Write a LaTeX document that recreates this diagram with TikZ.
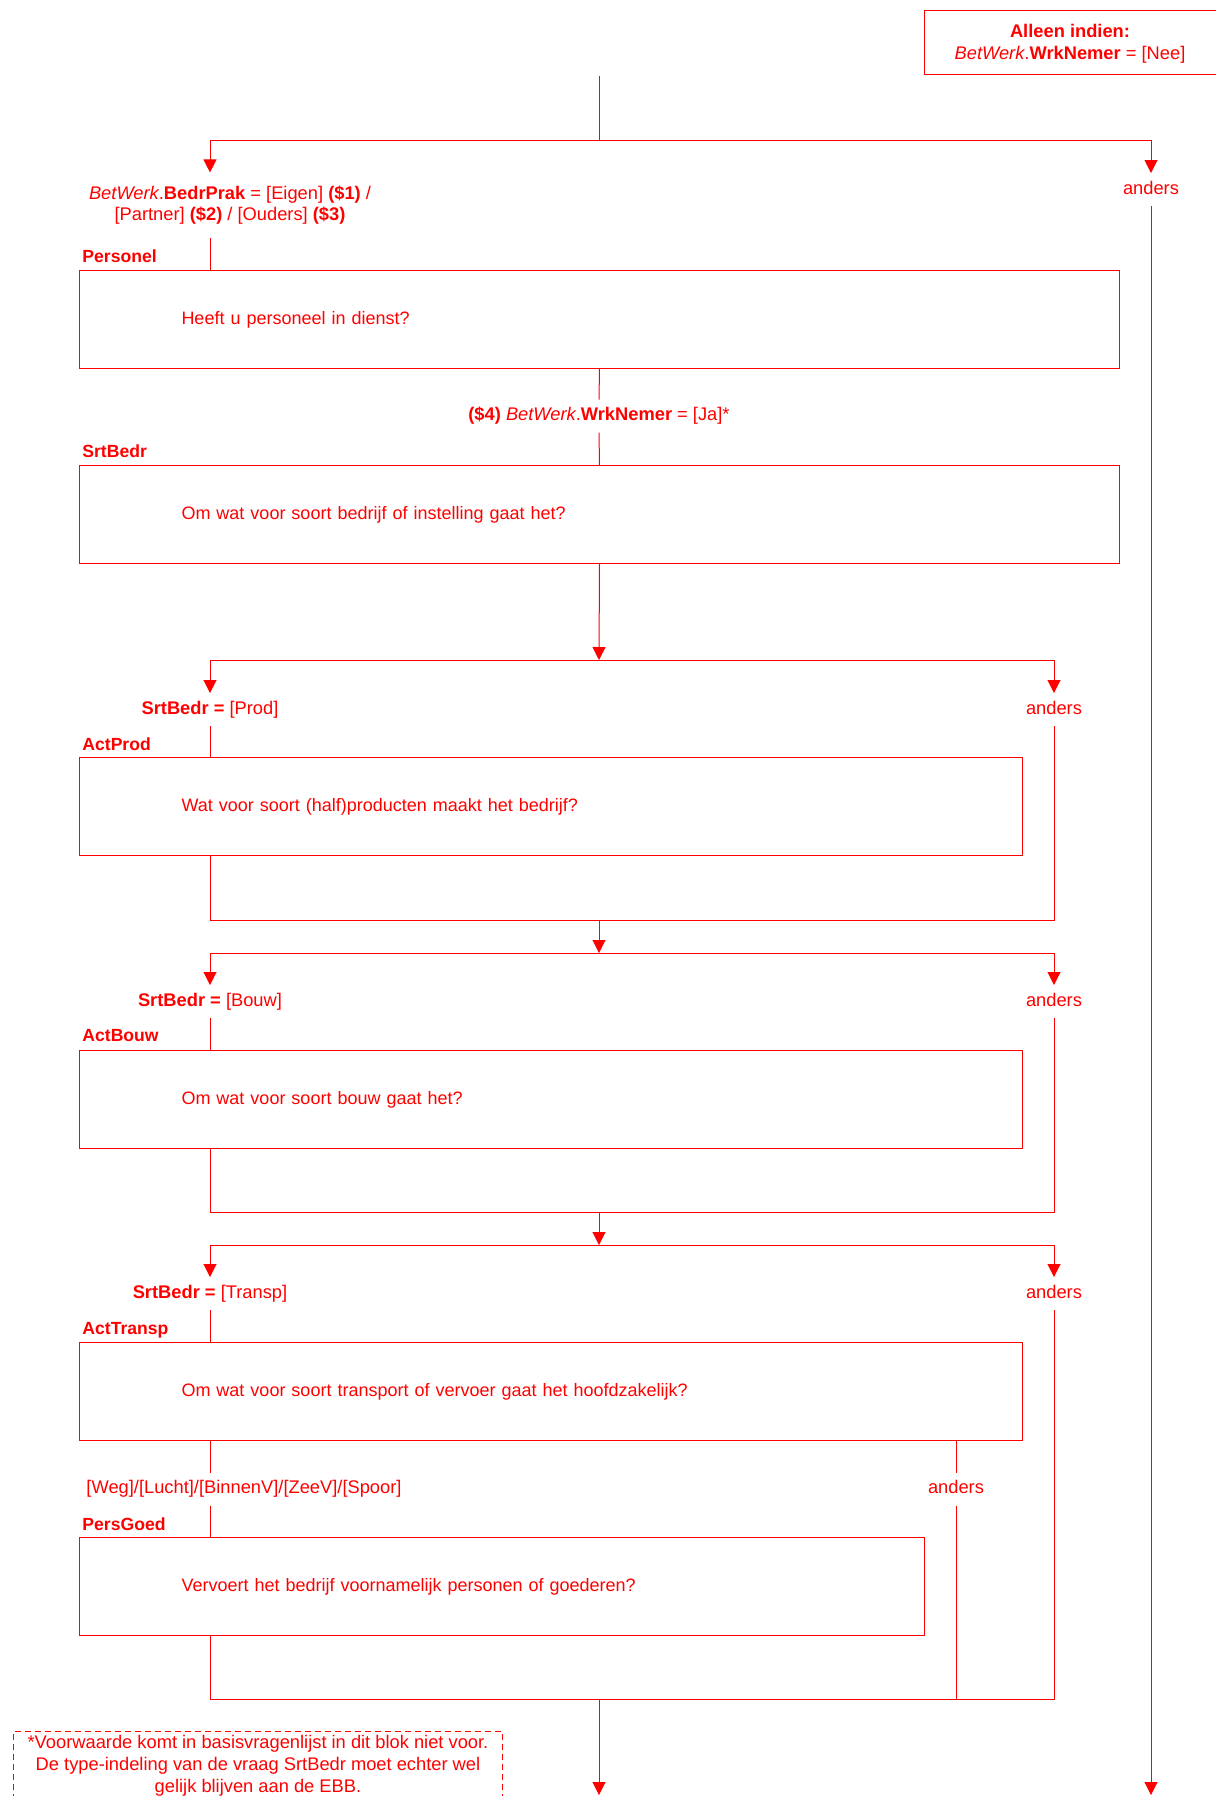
\documentclass[tikz,border=0pt]{standalone}
\usepackage{fontspec}
\setmainfont{Liberation Sans}
\usetikzlibrary{arrows.meta,calc}
\definecolor{rood}{RGB}{255,0,0}
\tikzset{
	lijn/.style={draw=rood, line width=0.5pt},
	pijl/.style={lijn, -{Triangle[length=6.5pt,width=6.5pt]}},
	kader/.style={text=rood, inner sep=0pt, align=center},
	vraag/.style={draw=rood, line width=0.5pt, text=rood, anchor=north west, minimum height=49pt, inner xsep=51pt, inner ysep=0pt, align=left, font=\fontsize{9}{10.9}\selectfont},
	naam/.style={text=rood, font=\fontsize{8.8}{10}\selectfont\bfseries, anchor=west, inner sep=0pt},
	voorw/.style={text=rood, inner sep=0pt, outer sep=4pt, text height=6.6pt, text depth=1.9pt},
	voorw2/.style={text=rood, inner sep=0pt, outer sep=6.5pt, align=center},
	stippel/.style={draw=rood, line width=0.5pt, dash pattern=on 3pt off 2pt},
}

\begin{document}
\begin{tikzpicture}[x=0.5pt, y=-0.5pt, font=\fontsize{9.15}{10.9}\selectfont]
		\useasboundingbox (0,0) rectangle (1216,1796);
		%%%%% START %%%%%
		
		\node[kader] (alleen) at (1070,43.5) {\textbf{Alleen indien:}\\\textit{BetWerk}.\textbf{WrkNemer} = [Nee]};
		\draw[lijn] ($(alleen.center)+(-146,-33.5)$) rectangle ($(alleen.center)+(148,30.5)$);
		
		\coordinate (begin) at (599,76);
		\coordinate (splits0) at (599,140);
		\coordinate (uit1) at (599,1795);
		\coordinate (uit2) at (1151,1795);
		
		\node[voorw2] (c0) at (230,205) {\textit{BetWerk}.\textbf{BedrPrak} = [Eigen] \textbf{(\$1)} /\\{}[Partner] \textbf{(\$2)} / [Ouders] \textbf{(\$3)}};
		\node[voorw] (a0) at (1151,189.5) {anders};
		
		\node[naam] (lpersonel) at (82,256) {Personel};
		\node[vraag, text width=418pt] (personel) at (79,270) {Heeft u personeel in dienst?};
		
		\node[voorw] (c4) at (599,416) {\textbf{(\$4)} \textit{BetWerk}.\textbf{WrkNemer} = [Ja]*};
		
		\node[naam] (lsrtbedr) at (82,451) {SrtBedr};
		\node[vraag, text width=418pt] (srtbedr) at (79,465) {Om wat voor soort bedrijf of instelling gaat het?};
		
		\draw[lijn] (begin) -- (splits0);
		\draw[pijl] (splits0) -| (210,0 |- c0.north);
		\draw[pijl] (splits0) -| (a0.north);
		\draw[lijn] (c0.south -| 210,0) -- (personel.north -| 210,0);
		\draw[pijl] (a0.south) -- (uit2);
		\draw[lijn] (personel.south) -- (c4.north);
		\draw[lijn] (c4.south) -- (srtbedr.north);
		
		% Prod
		\coordinate (splits1) at (599,660);
		\coordinate (samen1) at (599,920);
		\node[voorw] (c1) at (210,709.5) {\textbf{SrtBedr =} [Prod]};
		\node[voorw] (a1) at (1054,709.5) {anders};
		\node[naam] (lactprod) at (82,744) {ActProd};
		\node[vraag, text width=369.5pt] (actprod) at (79,757) {Wat voor soort (half)producten maakt het bedrijf?};
		
		\draw[pijl] (srtbedr.south) -- (splits1);
		\draw[pijl] (splits1) -| (c1.north);
		\draw[pijl] (splits1) -| (a1.north);
		\draw[lijn] (c1.south) -- (c1.south |- actprod.north);
		\draw[lijn] (actprod.south -| c1.south) -- (samen1 -| c1.south) -| (a1.south);
		
		% Bouw
		\coordinate (splits2) at (599,953);
		\coordinate (samen2) at (599,1212);
		\node[voorw] (c2) at (210,1001.5) {\textbf{SrtBedr =} [Bouw]};
		\node[voorw] (a2) at (1054,1001.5) {anders};
		\node[naam] (lactbouw) at (82,1036) {ActBouw};
		\node[vraag, text width=369.5pt] (actbouw) at (79,1050) {Om wat voor soort bouw gaat het?};
		
		\draw[pijl] (samen1) -- (splits2);
		\draw[pijl] (splits2) -| (c2.north);
		\draw[pijl] (splits2) -| (a2.north);
		\draw[lijn] (c2.south) -- (c2.south |- actbouw.north);
		\draw[lijn] (actbouw.south -| c2.south) -- (samen2 -| c2.south) -| (a2.south);
		
		% Transp
		\coordinate (splits3) at (599,1245);
		\coordinate (samen3) at (599,1699);
		\node[voorw] (c3) at (210,1293.5) {\textbf{SrtBedr =} [Transp]};
		\node[voorw] (a3) at (1054,1293.5) {anders};
		\node[naam] (lacttransp) at (82,1330) {ActTransp};
		\node[vraag, text width=369.5pt] (acttransp) at (79,1342) {Om wat voor soort transport of vervoer gaat het hoofdzakelijk?};
		
		\node[voorw] (c5) at (244,1489) {[Weg]/[Lucht]/[BinnenV]/[ZeeV]/[Spoor]};
		\node[voorw] (a5) at (956,1489) {anders};
		\node[naam] (lpersgoed) at (82,1524) {PersGoed};
		\node[vraag, text width=320.5pt] (persgoed) at (79,1537) {Vervoert het bedrijf voornamelijk personen of goederen?};
		
		\draw[pijl] (samen2) -- (splits3);
		\draw[pijl] (splits3) -| (c3.north);
		\draw[pijl] (splits3) -| (a3.north);
		\draw[lijn] (c3.south) -- (c3.south |- acttransp.north);
		\draw[lijn] (acttransp.south -| c3.south) -- (c5.north -| c3.south);
		\draw[lijn] (c5.south -| c3.south) -- (persgoed.north -| c3.south);
		\draw[lijn] (acttransp.south -| a5.north) -- (a5.north);
		\draw[lijn] (persgoed.south -| c3.south) -- (samen3 -| c3.south) -| (a3.south);
		\draw[lijn] (a5.south) -- (samen3 -| a5.south);
		\draw[pijl] (samen3) -- (uit1);
		
		% noot
		\node[text=rood, align=center, inner sep=0pt, minimum width=244pt, minimum height=34pt] (noot) at (258,1766) {*Voorwaarde komt in basisvragenlijst in dit blok niet voor.\\De type-indeling van de vraag SrtBedr moet echter wel\\gelijk blijven aan de EBB.};
		\draw[stippel] (noot.south west) |- (noot.north east) -- (noot.south east);
		
		%%%%% END %%%%%
	\end{tikzpicture}
\end{document}
